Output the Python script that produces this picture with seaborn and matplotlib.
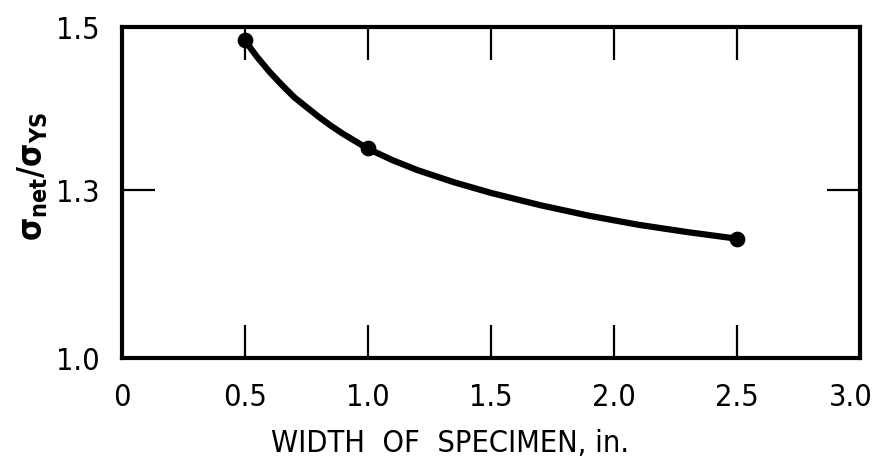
import numpy as np
import pandas as pd
import matplotlib
matplotlib.use("Agg")
import matplotlib.pyplot as plt
import matplotlib.transforms as mtransforms
import seaborn as sns

# measured points (width in inches, sigma_net / sigma_YS)
width = [0.5, 1.0, 2.5]
ratio = [1.484, 1.352, 1.241]

# faired curve
curve_width = [0.5, 0.525, 0.55, 0.575, 0.6, 0.65, 0.7, 0.75, 0.8, 0.85, 0.9, 0.95, 1.0, 1.1, 1.2,
               1.35, 1.5, 1.7, 1.9, 2.1, 2.3, 2.5]
curve_ratio = [1.484, 1.473, 1.463, 1.454, 1.445, 1.429, 1.414, 1.402, 1.390, 1.379, 1.369, 1.360,
               1.351, 1.337, 1.325, 1.310, 1.297, 1.282, 1.269, 1.258, 1.249, 1.241]

x_ticks = [0, 0.5, 1.0, 1.5, 2.0, 2.5, 3.0]
x_labels = ["0", "0.5", "1.0", "1.5", "2.0", "2.5", "3.0"]
y_ticks = [1.095, 1.3, 1.5]
y_labels = ["1.0", "1.3", "1.5"]

points = pd.DataFrame({"width": width, "ratio": ratio})
curve = pd.DataFrame({"width": curve_width, "ratio": curve_ratio})

sns.set_style("white")
plt.rcParams["font.family"] = ["DejaVu Sans"]
plt.rcParams["font.stretch"] = "condensed"
plt.rcParams["text.color"] = "black"
plt.rcParams["axes.labelcolor"] = "black"
plt.rcParams["xtick.color"] = "black"
plt.rcParams["ytick.color"] = "black"

fig = plt.figure(figsize=(8.78, 4.61), dpi=100)
ax = fig.add_axes([0.139, 0.2234, 0.8405, 0.718])

sns.lineplot(data=curve, x="width", y="ratio", color="black", linewidth=4.5, ax=ax)
sns.scatterplot(data=points, x="width", y="ratio", color="black", s=110, edgecolor="black", zorder=5, ax=ax)

ax.set_xlim(0, 3.0)
ax.set_ylim(1.095, 1.5)
ax.set_xticks(x_ticks)
ax.set_xticklabels(x_labels)
ax.set_yticks(y_ticks)
ax.set_yticklabels(y_labels)

ax.tick_params(axis="both", direction="in", length=24, width=1.6, color="black",
               labelsize=22, bottom=True, left=True, top=True, right=True)
ax.tick_params(axis="x", pad=18)
ax.tick_params(axis="y", pad=16)
# nudge the last x label left so it stays inside the figure
last = ax.get_xticklabels()[-1]
last.set_transform(last.get_transform() + mtransforms.ScaledTranslation(-9 / 100, 0, fig.dpi_scale_trans))

for sp in ax.spines.values():
    sp.set_linewidth(3)
    sp.set_color("black")

ax.set_xlabel("WIDTH  OF  SPECIMEN, in.", fontsize=22)
ax.xaxis.set_label_coords(0.445, -0.215)
ax.set_ylabel(r"σ$_{\mathbf{net}}$/σ$_{\mathbf{YS}}$", fontsize=24, fontweight="bold")
ax.yaxis.set_label_coords(-0.098, 0.55)

fig.savefig("out.png", dpi=100)
